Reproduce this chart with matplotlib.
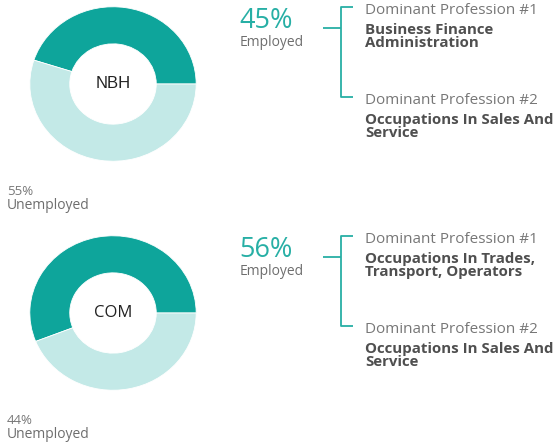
import matplotlib
matplotlib.use("Agg")
import matplotlib.pyplot as plt

plt.rcParams['font.family'] = ['Open Sans', 'DejaVu Sans']

# data
areas = ["NBH", "COM"]
employed = [45, 56]
unemployed = [55, 44]
prof1 = ["Business Finance\nAdministration", "Occupations In Trades,\nTransport, Operators"]
prof2 = ["Occupations In Sales And\nService", "Occupations In Sales And\nService"]

DARK = "#0ea59b"
LIGHT = "#c3e9e7"
TEAL_TXT = "#27afa5"
GREY = "#6e6e6e"
DARKGREY = "#4f4f4f"

W, H = 556, 445
fig = plt.figure(figsize=(W / 100, H / 100), dpi=100)

# overlay axes in pixel coordinates for texts and brackets
ov = fig.add_axes([0, 0, 1, 1], zorder=2)
ov.set_xlim(0, W)
ov.set_ylim(H, 0)
ov.axis("off")

offsets = [0, 229]
center_fonts = ["Liberation Sans", "Open Sans"]

for i, area in enumerate(areas):
    dy = offsets[i]
    # donut (ellipse ~168 x 156 px)
    left, right = 29, 197
    top, bottom = 6 + dy, 162 + dy
    ax = fig.add_axes([left / W, 1 - bottom / H, (right - left) / W, (bottom - top) / H])
    ax.pie([employed[i], unemployed[i]], colors=[DARK, LIGHT], startangle=0,
           counterclock=True, radius=1,
           wedgeprops=dict(width=0.48, edgecolor="white", linewidth=0.6))
    ax.set_aspect("auto")
    ax.set_xlim(-1.01, 1.01)
    ax.set_ylim(-1.01, 1.01)
    ax.axis("off")
    ax.text(0, 0, area, ha="center", va="center", fontsize=12, color="#222222",
            family=[center_fonts[i], "DejaVu Sans"])

    # unemployed label
    ov.text(7, 195 + dy, f"{unemployed[i]}%", fontsize=9.5, color="#777777", va="baseline")
    ov.text(7, 209 + dy, "Unemployed", fontsize=10, color=GREY, va="baseline")

    # employed label
    ov.text(239, 28 + dy, f"{employed[i]}%", fontsize=19.5, color=TEAL_TXT, va="baseline")
    ov.text(240, 46 + dy, "Employed", fontsize=10, color=GREY, va="baseline")

    # bracket
    ov.plot([323, 341], [28 + dy, 28 + dy], color=TEAL_TXT, lw=1.3, solid_capstyle="butt")
    ov.plot([353, 341, 341, 353], [7 + dy, 7 + dy, 97 + dy, 97 + dy], color=TEAL_TXT, lw=1.3,
            solid_capstyle="butt")

    # professions (baseline = last line for multi-line text)
    ov.text(365, 14 + dy, "Dominant Profession #1", fontsize=11, color="#777777", va="baseline")
    ov.text(365, 47 + dy, prof1[i], fontsize=10.8, fontweight="bold", color=DARKGREY,
            va="baseline", linespacing=0.88)
    ov.text(365, 104 + dy, "Dominant Profession #2", fontsize=11, color="#777777", va="baseline")
    ov.text(365, 137 + dy, prof2[i], fontsize=10.8, fontweight="bold", color=DARKGREY,
            va="baseline", linespacing=0.88)

fig.savefig("out.png", dpi=100)
